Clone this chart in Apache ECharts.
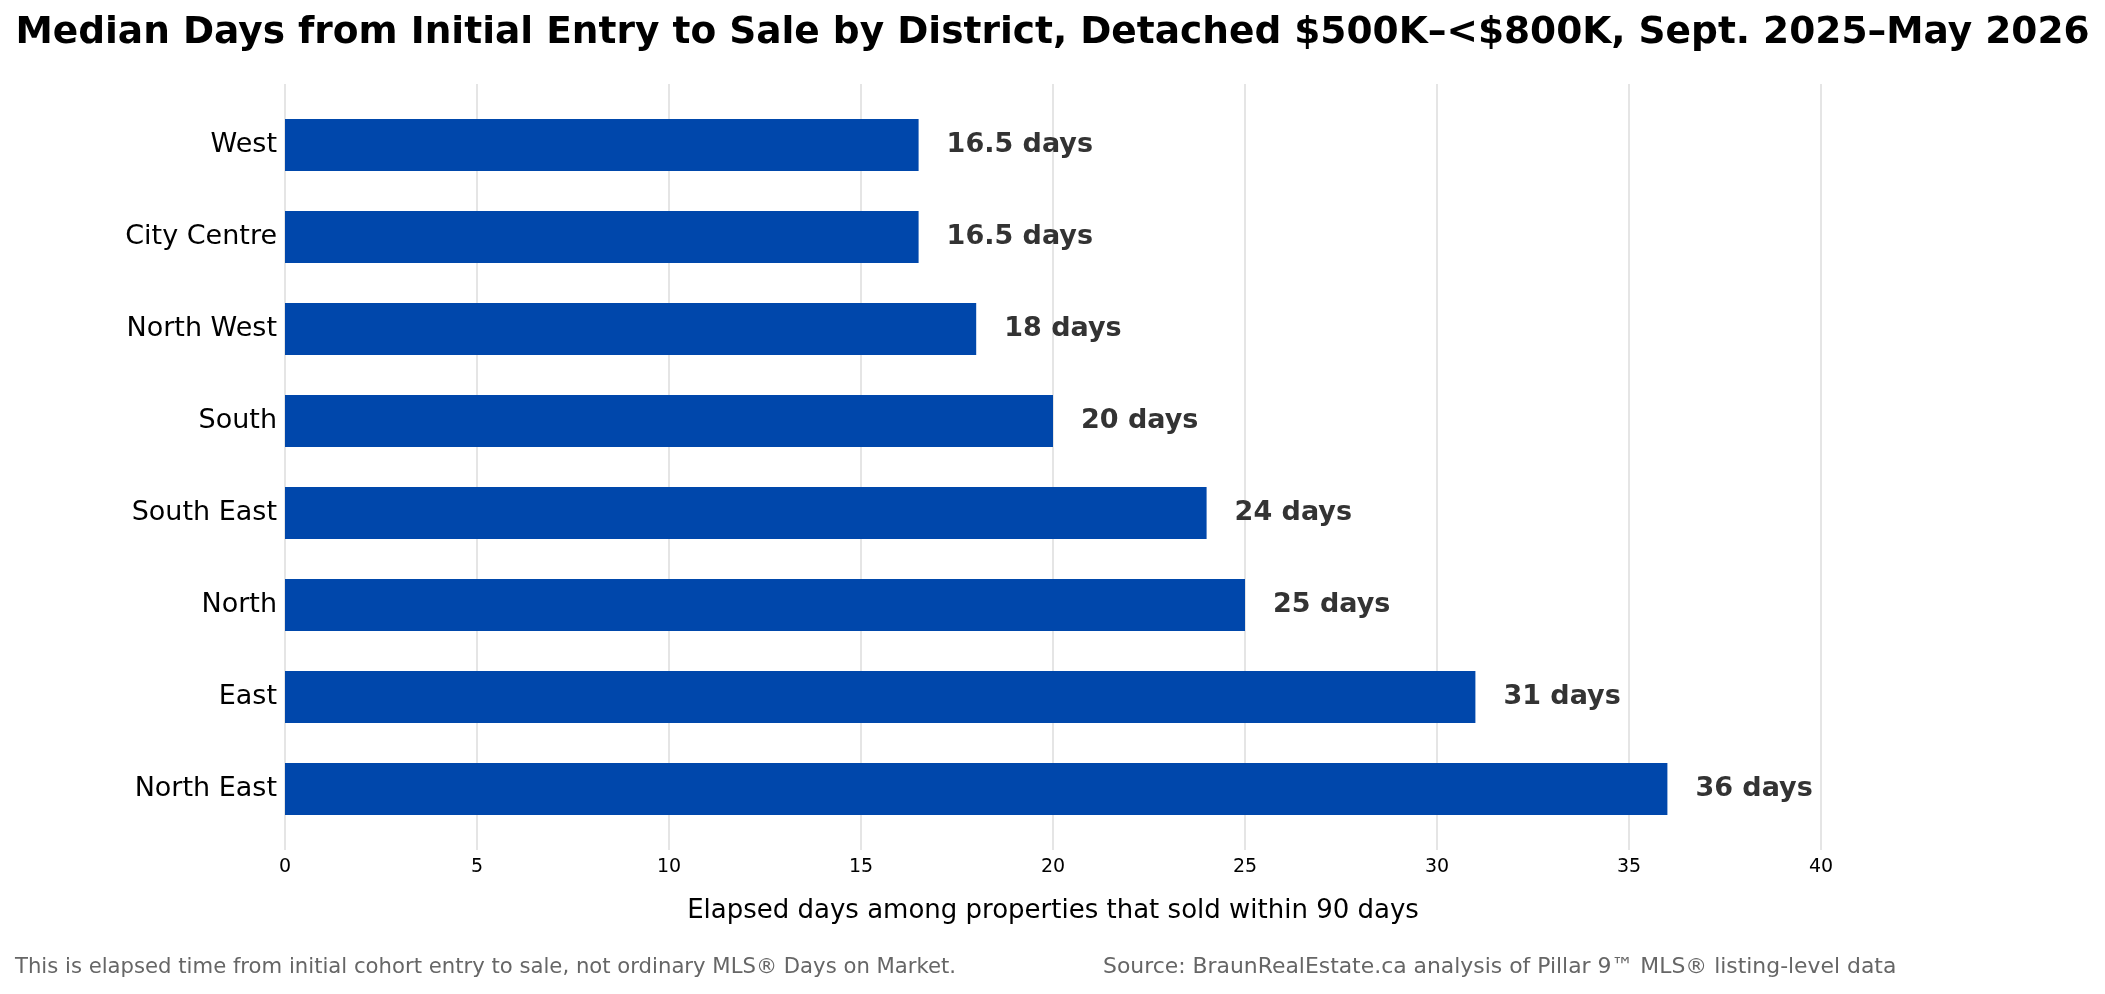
<!DOCTYPE html>
<html lang="en">
<head>
    <meta charset="UTF-8">
    <title>Median Days from Initial Entry to Sale by District</title>
    <script src="https://cdn.jsdelivr.net/npm/echarts@6/dist/echarts.min.js"></script>
    <style>
        html, body { margin: 0; padding: 0; background: #fff; }
        #main { width: 2105px; height: 994px; }
    </style>
</head>
<body>
<div id="main"></div>
<script>
    // districts, top to bottom
    var districts = ['West', 'City Centre', 'North West', 'South', 'South East', 'North', 'East', 'North East'];
    var medianDays = [16.5, 16.5, 18, 20, 24, 25, 31, 36];
    var xTicks = [0, 5, 10, 15, 20, 25, 30, 35, 40];

    var font = 'DejaVu Sans';
    var chart = echarts.init(document.getElementById('main'), null, {renderer: 'canvas'});

    var option = {
        backgroundColor: '#ffffff',
        animation: false,
        title: {
            text: 'Median Days from Initial Entry to Sale by District, Detached $500K\u2013<$800K, Sept. 2025\u2013May 2026',
            left: 'center',
            top: 9,
            textStyle: {fontFamily: font, fontSize: 37.5, fontWeight: 'bold', color: '#000'}
        },
        graphic: [
            {
                type: 'text', left: 15, top: 957,
                style: {
                    text: 'This is elapsed time from initial cohort entry to sale, not ordinary MLS\u00ae Days on Market.',
                    font: '21.2px "DejaVu Sans"', fill: '#666666'
                }
            },
            {
                type: 'text', left: 1103, top: 956,
                style: {
                    text: 'Source: BraunRealEstate.ca analysis of Pillar 9\u2122 MLS\u00ae listing-level data',
                    font: '21.9px "DejaVu Sans"', fill: '#666666'
                }
            }
        ],
        grid: [
            {left: 285, right: 284, top: 99, bottom: 159, containLabel: false},
            // taller grid only for the vertical gridlines
            {left: 285, right: 284, top: 84, bottom: 144, containLabel: false}
        ],
        xAxis: [
            {
                type: 'value',
                gridIndex: 0,
                min: 0,
                max: 40,
                interval: 5,
                name: 'Elapsed days among properties that sold within 90 days',
                nameLocation: 'middle',
                nameGap: 63,
                nameTextStyle: {fontFamily: font, fontSize: 26, color: '#000'},
                axisLine: {show: false},
                axisTick: {show: false},
                axisLabel: {
                    fontFamily: font, fontSize: 19, color: '#000', margin: 23,
                    formatter: function (v) { return xTicks.indexOf(v) >= 0 ? String(v) : ''; }
                },
                splitLine: {show: false}
            },
            {
                type: 'value',
                gridIndex: 1,
                min: 0,
                max: 40,
                interval: 5,
                axisLine: {show: false},
                axisTick: {show: false},
                axisLabel: {show: false},
                splitLine: {show: true, lineStyle: {color: '#dddddd', width: 1.5}}
            }
        ],
        yAxis: [
            {
                type: 'category',
                gridIndex: 0,
                data: districts,
                inverse: true,
                axisLine: {show: false},
                axisTick: {show: false},
                axisLabel: {fontFamily: font, fontSize: 27, color: '#000', margin: 8, padding: [6, 0, 0, 0]},
                splitLine: {show: false}
            },
            {
                type: 'category',
                gridIndex: 1,
                data: districts,
                show: false
            }
        ],
        series: [{
            type: 'bar',
            xAxisIndex: 0,
            yAxisIndex: 0,
            data: medianDays,
            barWidth: 52,
            z: 3,
            itemStyle: {color: '#0047AB'},
            label: {
                show: true,
                position: 'right',
                distance: 28,
                fontFamily: font,
                fontSize: 27,
                fontWeight: 'bold',
                color: '#333333',
                padding: [3, 0, 0, 0],
                formatter: function (p) { return p.value + ' days'; }
            }
        }]
    };

    chart.setOption(option);
</script>
</body>
</html>
